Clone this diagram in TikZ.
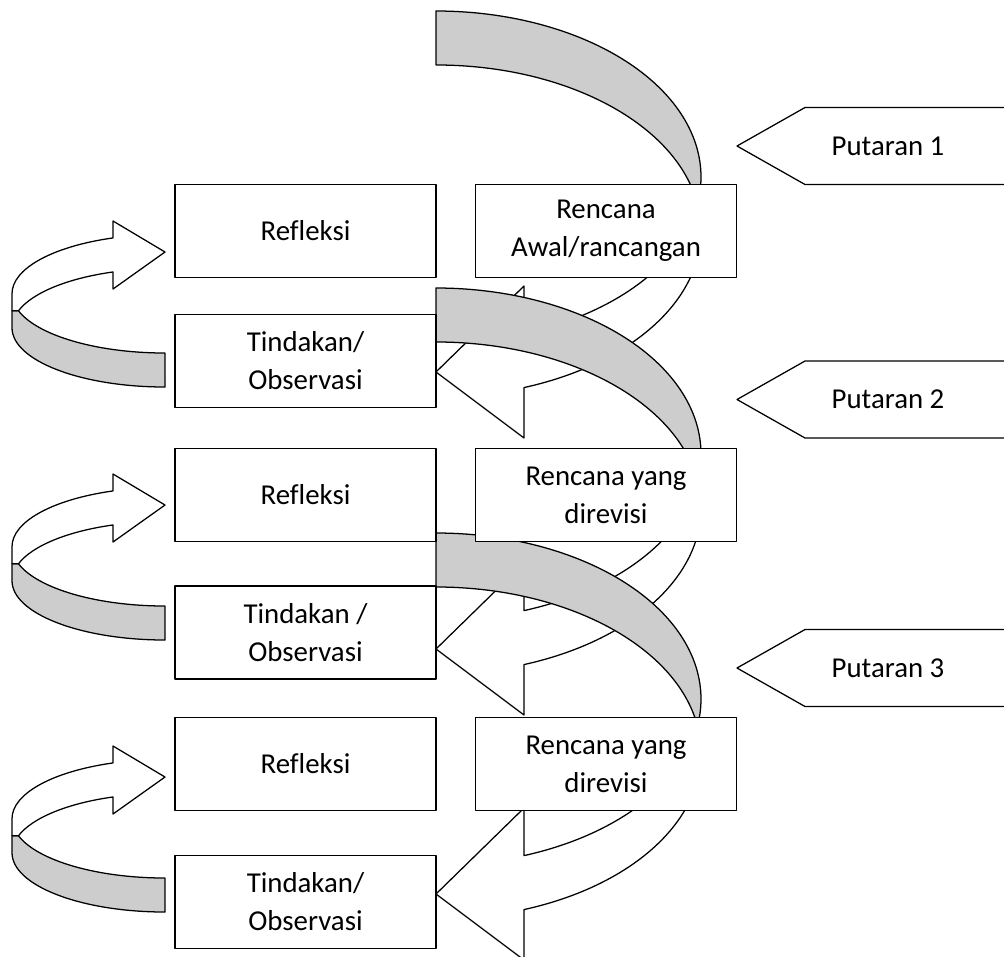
\documentclass[tikz,border=0pt]{standalone}
\usepackage{fontspec}
\setmainfont{Carlito}[Ligatures=CommonOff]
\definecolor{bandgray}{RGB}{205,205,205}
\tikzset{
  box/.style={draw, fill=white, line width=0.9pt, minimum width=6.525cm, minimum height=2.33cm, align=center, inner sep=0pt},
  band/.style={draw, fill=bandgray, line width=0.9pt},
  front/.style={draw, fill=white, line width=0.9pt},
  lbl/.style={inner sep=0pt}
}
\begin{document}
\begin{tikzpicture}[x=0.025cm, y=-0.025cm, line join=round, line cap=round, font=\fontsize{20.5}{27}\selectfont]
\useasboundingbox (0,0) rectangle (1004,956);
% curved arrows on the right, back part grey, front part with head
\foreach \t in {11,288,533}{
  \draw[band] (436,\t) arc[start angle=-90, end angle=9.36, x radius=265, y radius=166]
    arc[start angle=-9.36, end angle=-90, x radius=265, y radius=166] -- cycle;
  \draw[front] (697.47,\t+193) arc[start angle=-9.36, end angle=70.6, x radius=265, y radius=166]
    -- (524,\t+427) -- (436,\t+361) -- (524,\t+275) -- (524,\t+322.6)
    arc[start angle=70.6, end angle=9.36, x radius=265, y radius=166] -- cycle;
}
% curved arrows on the left
\foreach \c in {327.7,580.7,852.7}{
  \draw[band] (18.42,\c-17) arc[start angle=163.34, end angle=90, x radius=153, y radius=59.3]
    -- (165,\c+59.3) arc[start angle=90, end angle=180, x radius=153, y radius=59.3]
    -- (12,\c-17) -- cycle;
  \draw[front] (12,\c-17) -- (12,\c-34) arc[start angle=180, end angle=250.1, x radius=153, y radius=59.3]
    -- (113,\c-106.7) -- (165,\c-75.7) -- (113,\c-38.7) -- (113,\c-55.75)
    arc[start angle=250.1, end angle=196.66, x radius=153, y radius=59.3] -- cycle;
}
% boxes
\node[box] (ref1) at (305.5,231) {Refleksi};
\node[box] (act1) at (305.5,361) {Tindakan/\\Observasi};
\node[box] (plan1) at (606,231) {Rencana\\Awal/rancangan};
\node[box] (ref2) at (305.5,495) {Refleksi};
\node[box] (act2) at (305.5,632.5) {Tindakan /\\Observasi};
\node[box] (plan2) at (606,495) {Rencana yang\\direvisi};
\node[box] (ref3) at (305.5,764) {Refleksi};
\node[box] (act3) at (305.5,902) {Tindakan/\\Observasi};
\node[box] (plan3) at (606,764) {Rencana yang\\direvisi};
% round labels
\foreach \y/\n in {146/1,399.5/2,668/3}{
  \draw[line width=0.9pt] (1015,\y-38.5) -- (805,\y-38.5) -- (737,\y) -- (805,\y+38.5) -- (1015,\y+38.5);
  \node[lbl] (round\n) at (888,\y) {Putaran \n};
}
\end{tikzpicture}
\end{document}
